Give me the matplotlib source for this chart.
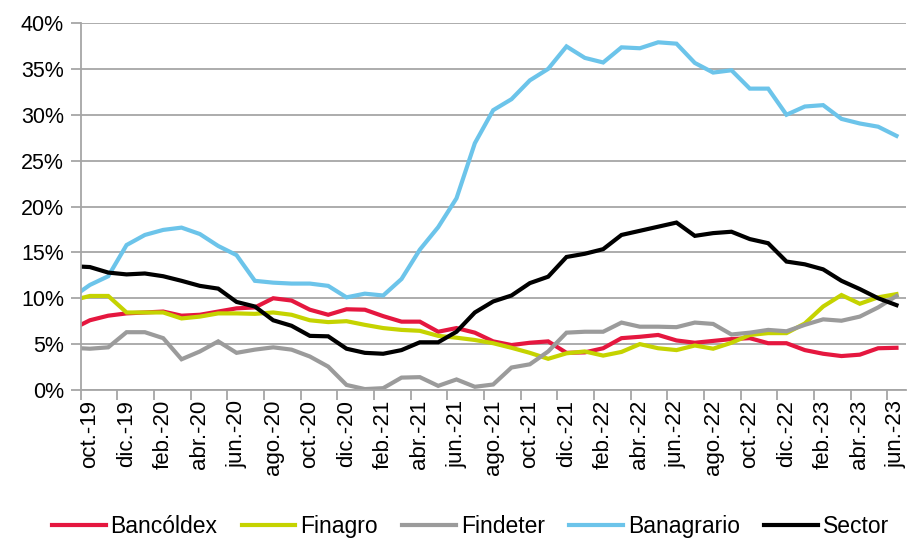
import matplotlib
matplotlib.use("Agg")
import matplotlib.pyplot as plt
from matplotlib.ticker import FixedLocator, FuncFormatter

plt.rcParams["font.family"] = ["Liberation Sans", "DejaVu Sans"]

# Monthly ratios (%). First value is sep-19, cut off by the axis edge;
# the rest run oct-19 .. jun-23.
bancoldex = [6.6, 7.6, 8.1, 8.35, 8.45, 8.55, 8.1, 8.2, 8.55, 8.9, 9.0, 10.0,
             9.75, 8.75, 8.2, 8.8, 8.75, 8.05, 7.45, 7.45, 6.35, 6.75, 6.25,
             5.3, 4.9, 5.15, 5.3, 4.05, 4.1, 4.55, 5.65, 5.8, 6.0, 5.4, 5.15,
             5.35, 5.55, 5.65, 5.1, 5.1, 4.35, 3.95, 3.7, 3.85, 4.55, 4.6]
finagro = [9.75, 10.25, 10.25, 8.45, 8.45, 8.45, 7.8, 8.0, 8.35, 8.35, 8.3,
           8.45, 8.2, 7.6, 7.4, 7.5, 7.1, 6.75, 6.55, 6.45, 5.9, 5.7, 5.45,
           5.1, 4.6, 4.05, 3.4, 4.0, 4.2, 3.75, 4.15, 5.0, 4.55, 4.35, 4.85,
           4.5, 5.15, 6.0, 6.2, 6.2, 7.25, 9.1, 10.35, 9.4, 10.1, 10.45]
findeter = [4.6, 4.5, 4.65, 6.3, 6.3, 5.65, 3.35, 4.2, 5.3, 4.05, 4.4, 4.65,
            4.4, 3.65, 2.55, 0.55, 0.1, 0.2, 1.35, 1.4, 0.45, 1.15, 0.35, 0.6,
            2.45, 2.8, 4.2, 6.25, 6.35, 6.35, 7.35, 6.9, 6.9, 6.85, 7.35, 7.2,
            6.05, 6.25, 6.55, 6.4, 7.1, 7.7, 7.55, 8.0, 9.0, 10.25]
banagrario = [10.05, 11.45, 12.4, 15.8, 16.9, 17.45, 17.7, 17.0, 15.7, 14.7,
              11.9, 11.7, 11.6, 11.6, 11.35, 10.1, 10.5, 10.3, 12.1, 15.3,
              17.75, 20.9, 26.9, 30.5, 31.7, 33.75, 35.0, 37.45, 36.2, 35.7,
              37.35, 37.25, 37.9, 37.75, 35.65, 34.6, 34.85, 32.85, 32.85,
              30.0, 30.9, 31.05, 29.55, 29.05, 28.7, 27.7]
sector = [13.5, 13.4, 12.8, 12.6, 12.7, 12.4, 11.9, 11.35, 11.05, 9.6, 9.1,
          7.6, 7.0, 5.9, 5.85, 4.5, 4.05, 3.95, 4.35, 5.2, 5.2, 6.35, 8.45,
          9.65, 10.3, 11.65, 12.35, 14.5, 14.85, 15.35, 16.9, 17.35, 17.8,
          18.25, 16.8, 17.1, 17.25, 16.45, 16.0, 14.0, 13.7, 13.15, 11.9,
          11.0, 10.0, 9.25]

tick_labels = ["oct.-19", "dic.-19", "feb.-20", "abr.-20", "jun.-20", "ago.-20",
               "oct.-20", "dic.-20", "feb.-21", "abr.-21", "jun.-21", "ago.-21",
               "oct.-21", "dic.-21", "feb.-22", "abr.-22", "jun.-22", "ago.-22",
               "oct.-22", "dic.-22", "feb.-23", "abr.-23", "jun.-23"]

series = [
    ("Bancóldex", bancoldex, "#E5173F"),
    ("Finagro", finagro, "#C5D300"),
    ("Findeter", findeter, "#9B9B9B"),
    ("Banagrario", banagrario, "#6CC4EA"),
    ("Sector", sector, "#000000"),
]

GRID = "#A6A6A6"

fig = plt.figure(figsize=(9.1, 5.38), dpi=100)
ax = fig.add_axes([0.0887, 0.2751, 0.9065, 0.6821])

x = list(range(-1, len(sector) - 1))
for name, vals, color in series:
    ax.plot(x, vals, color=color, linewidth=3.0, label=name,
            solid_joinstyle="miter")

n_cat = len(sector) - 1
ax.set_xlim(-0.5, n_cat - 0.5)
ax.set_ylim(0, 40)

ax.set_yticks(range(0, 41, 5))
ax.yaxis.set_major_formatter(FuncFormatter(lambda v, p: f"{v:.0f}%"))
ax.yaxis.grid(True, color=GRID, linewidth=1.3)
ax.set_axisbelow(True)

# labels on category centres, tick marks on every other category boundary
ax.set_xticks(range(0, n_cat, 2))
ax.set_xticklabels(tick_labels, rotation=90)
ax.xaxis.set_minor_locator(FixedLocator([i - 0.5 for i in range(0, n_cat + 1, 2)]))
ax.tick_params(axis="x", which="major", length=0, pad=7, labelsize=16)
ax.tick_params(axis="x", which="minor", length=7, color=GRID, width=1.3)
ax.tick_params(axis="y", length=7, color=GRID, width=1.3, pad=5, labelsize=15.5)

for side in ("top", "right"):
    ax.spines[side].set_visible(False)
for side in ("left", "bottom"):
    ax.spines[side].set_color(GRID)
    ax.spines[side].set_linewidth(1.3)

fig.legend(loc="lower center", bbox_to_anchor=(0.517, -0.038), ncol=5,
           frameon=False, fontsize=16.5, handlelength=2.35, handletextpad=0.22,
           columnspacing=1.05)

fig.savefig("out.png", dpi=100)
